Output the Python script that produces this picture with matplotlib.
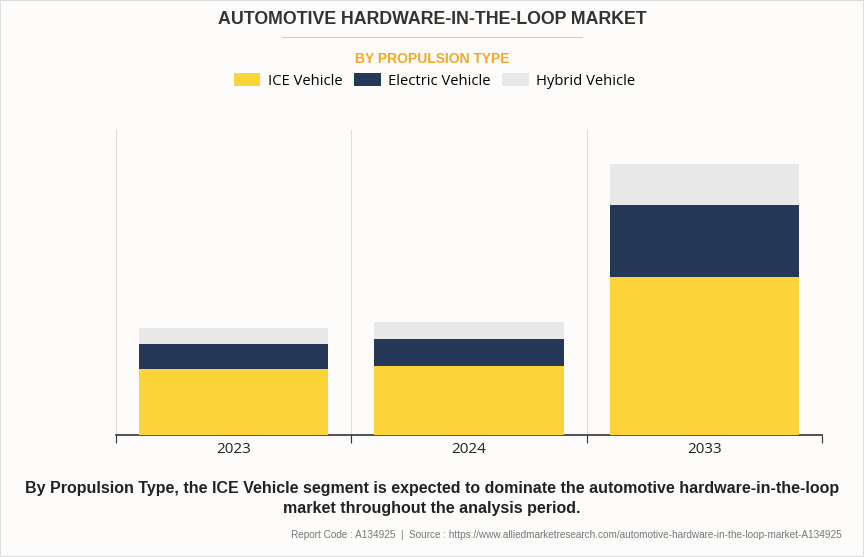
import numpy as np
import matplotlib.pyplot as plt
from matplotlib.patches import Patch

years = ["2023", "2024", "2033"]
ice = [66.3, 69.3, 158.0]
electric = [25.0, 26.4, 72.0]
hybrid = [16.0, 17.3, 41.3]

c_ice = "#FDD33A"
c_ev = "#253858"
c_hyb = "#E8E8E8"
bg = "#FDFCFB"

fig = plt.figure(figsize=(8.64, 5.57), dpi=100, facecolor=bg)
ax = fig.add_axes([116/864, 122/557, 706/864, 305/557], facecolor=bg)

x = np.arange(len(years))
ice_arr = np.array(ice)
ev_arr = np.array(electric)
ax.bar(x, ice, width=0.805, color=c_ice, zorder=3)
ax.bar(x, electric, width=0.805, bottom=ice_arr, color=c_ev, zorder=3)
ax.bar(x, hybrid, width=0.805, bottom=ice_arr + ev_arr, color=c_hyb, zorder=3)

ax.set_xlim(-0.5, len(years) - 0.5)
ax.set_ylim(0, 305)
ax.set_yticks([])
bounds = np.arange(len(years) + 1) - 0.5
ax.set_xticks(bounds)
ax.set_xticklabels([])
ax.set_xticks(x, minor=True)
ax.set_xticklabels(years, minor=True, fontsize=11, fontfamily="Open Sans", color="#222222")
ax.tick_params(axis="x", which="major", length=6, color="#333333")
ax.tick_params(axis="x", which="minor", length=0, pad=5)
for b in bounds:
    ax.axvline(b, color="#DDDDDD", lw=0.8, zorder=1)
for s in ["top", "left", "right"]:
    ax.spines[s].set_visible(False)
ax.spines["bottom"].set_color("#333333")
ax.spines["bottom"].set_linewidth(1.2)

# titles
fig.text(0.5, 1 - 20/557, "AUTOMOTIVE HARDWARE-IN-THE-LOOP MARKET", ha="center", va="center",
         fontsize=12.8, fontweight="heavy", color="#333333", fontfamily="Liberation Sans")
fig.add_artist(plt.Line2D([282/864, 582/864], [1 - 37/557, 1 - 37/557], color="#CCCCCC", lw=0.8))
fig.text(0.5, 1 - 59/557, "BY PROPULSION TYPE", ha="center", va="center",
         fontsize=10, fontweight="bold", color="#F5A623", fontfamily="Liberation Sans")

handles = [Patch(facecolor=c_ice, label="ICE Vehicle"),
           Patch(facecolor=c_ev, label="Electric Vehicle"),
           Patch(facecolor=c_hyb, label="Hybrid Vehicle")]
fig.legend(handles=handles, loc="center", bbox_to_anchor=(0.503, 1 - 81/557), ncol=3, frameon=False,
           prop={"family": "Open Sans", "size": 10.6}, handlelength=1.8, handleheight=1.0,
           handletextpad=0.5, columnspacing=0.8)

fig.text(0.5, 1 - 498.5/557,
         "By Propulsion Type, the ICE Vehicle segment is expected to dominate the automotive hardware-in-the-loop\nmarket throughout the analysis period.",
         ha="center", va="center", fontsize=11.5, fontweight="bold", color="#222222",
         fontfamily="Liberation Sans", linespacing=1.5)
fig.text(842/864, 1 - 535/557,
         "Report Code : A134925  |  Source : https://www.alliedmarketresearch.com/automotive-hardware-in-the-loop-market-A134925",
         ha="right", va="center", fontsize=7.2, color="#777777", fontfamily="Liberation Sans")

fig.add_artist(plt.Rectangle((0, 0), 1, 1, transform=fig.transFigure, fill=False,
                             edgecolor="#DDDDDD", lw=1.5))

fig.savefig("out.png", dpi=100, facecolor=bg)
